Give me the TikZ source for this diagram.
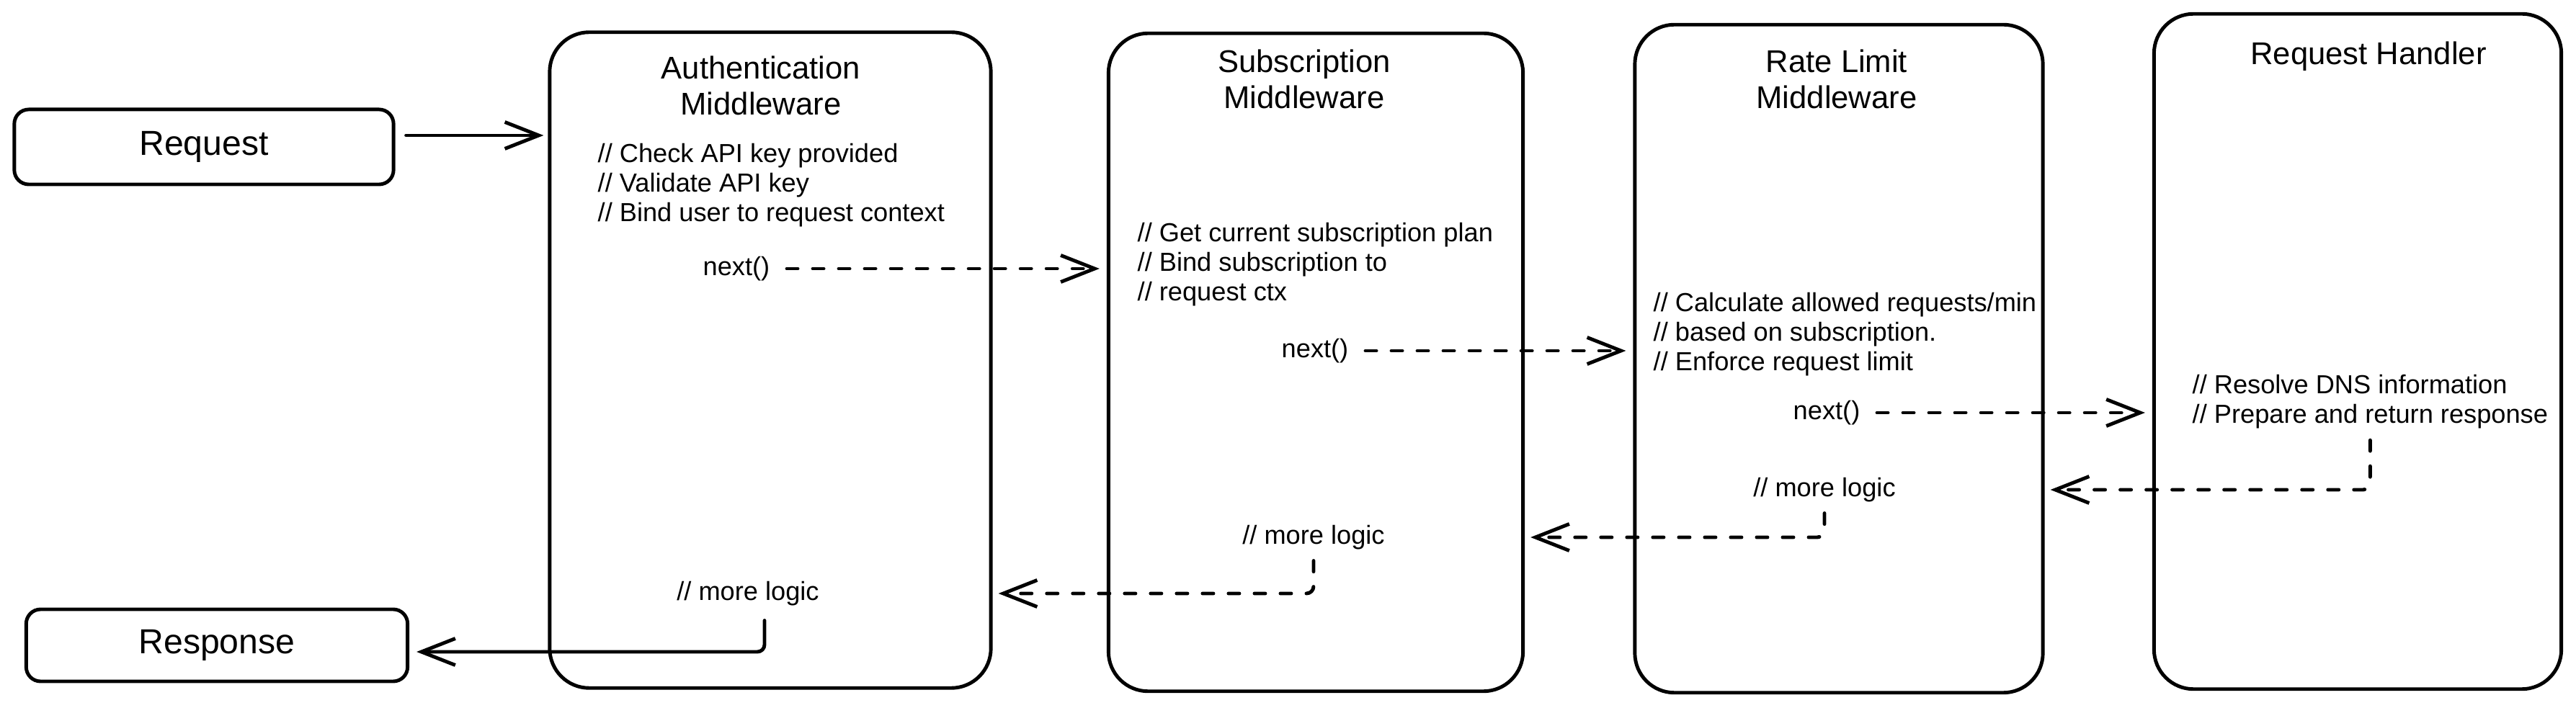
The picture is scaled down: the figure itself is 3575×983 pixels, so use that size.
\documentclass[tikz,border=0pt]{standalone}
\usepackage{fontspec}
\setmainfont{Liberation Sans}
\usetikzlibrary{arrows.meta}
\usetikzlibrary{positioning}
\tikzstyle{block} = [draw, line width=1.4pt, rounded corners=2mm, inner sep=0pt,
    font=\fontsize{13.7}{16}\selectfont]
\tikzstyle{stage} = [draw, line width=1.4pt, rounded corners=5.5mm, inner sep=0pt]
\tikzstyle{title} = [align=center, inner sep=0pt, font=\fontsize{12.4}{14.2}\selectfont]
\tikzstyle{note} = [align=left, anchor=west, inner sep=0pt, font=\fontsize{10.3}{11.7}\selectfont]
\tikzstyle{call} = [inner sep=0pt, font=\fontsize{10.3}{11.7}\selectfont]
\tikzstyle{flow} = [line width=1.4pt, line cap=round, -{Straight Barb[length=4.7mm,width=3.7mm]}]
\tikzstyle{pass} = [flow, dash pattern=on 1.5mm off 2.1mm, shorten <=2.3mm, shorten >=1mm]
\tikzstyle{back} = [flow, dash pattern=on 1.5mm off 2.1mm, rounded corners=1mm,
    shorten <=1.5mm, shorten >=0.8mm]

\begin{document}
\begin{tikzpicture}[x=0.01cm, y=-0.01cm]
    \useasboundingbox (0,0) rectangle (3575,983);

    % We start by placing the blocks
    \node [block, minimum width=5.26cm, minimum height=1.04cm] (req) at (283,204) {Request};
    \node [block, minimum width=5.29cm, minimum height=1.00cm] (resp) at (301,896) {Response};
    \node [stage, minimum width=6.12cm, minimum height=9.10cm] (auth) at (1069,500) {};
    \node [stage, minimum width=5.75cm, minimum height=9.13cm] (sub) at (1826,503) {};
    \node [stage, minimum width=5.66cm, minimum height=9.27cm] (rate) at (2552,498) {};
    \node [stage, minimum width=5.65cm, minimum height=9.37cm] (hand) at (3272,488) {};

    % titles and code comments inside the middleware boxes
    \node [title] (authT) at (1056,119) {Authentication\\Middleware};
    \node [title] (subT) at (1810,110) {Subscription\\Middleware};
    \node [title] (rateT) at (2549,110) {Rate Limit\\Middleware};
    \node [title] (handT) at (3287,78) {Request Handler};

    \node [note] (authN) at (829,257) {// Check API key provided\\// Validate API key\\// Bind user to request context};
    \node [note] (subN) at (1578,367) {// Get current subscription plan\\// Bind subscription to\\// request ctx};
    \node [note] (rateN) at (2294,464) {// Calculate allowed requests/min\\// based on subscription.\\// Enforce request limit};
    \node [note] (handN) at (3042,558) {// Resolve DNS information\\// Prepare and return response};

    \node [call] (n1) at (1022,373) {next()};
    \node [call] (n2) at (1825,487) {next()};
    \node [call] (n3) at (2535,573) {next()};

    \node [call] (ml1) at (1038,824) {// more logic};
    \node [call] (ml2) at (1823,746) {// more logic};
    \node [call] (ml3) at (2532,680) {// more logic};

    % Once the nodes are placed, connecting them is easy.
    \coordinate (rin) at ([yshift=0.16cm]req.east);
    \draw [flow, shorten <=1.5mm, shorten >=0.6mm] (rin) -- (rin -| auth.west);
    \draw [pass] (n1.east) -- (n1 -| sub.west);
    \draw [pass] (n2.east) -- (n2 -| rate.west);
    \draw [pass] (n3.east) -- (n3 -| hand.west);

    % and back out again
    \coordinate (rout) at ([yshift=-0.09cm]resp.east);
    \draw [back] (handN.south) |- (rate.east |- ml3);
    \draw [back] (ml3.south) |- (sub.east |- ml2);
    \draw [back] (ml2.south) |- (auth.east |- ml1);
    \draw [flow, rounded corners=1mm, shorten <=2mm, shorten >=1mm] ([xshift=0.23cm]ml1.south) |- (rout);
\end{tikzpicture}
\end{document}
